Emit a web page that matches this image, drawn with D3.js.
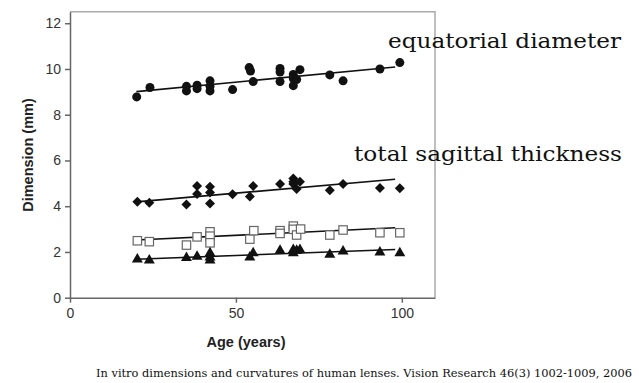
<!DOCTYPE html>
<html>
<head>
<meta charset="utf-8">
<script src="https://cdn.jsdelivr.net/npm/d3@7"></script>
<style>
  body { margin: 0; background: #fff; }
  svg { display: block; }
</style>
</head>
<body>
<svg id="chart" width="639" height="383"></svg>
<script>
// ages (years) and dimensions (mm)
var diamAge = [20.1, 24.1, 35.1, 35.1, 38.3, 38.3, 42.2, 42.2, 42.2, 49, 54, 54.4, 55.2, 63.3, 63.3, 63.3, 67.3, 67.3, 67.3, 68.3, 69.3, 78.3, 82.3, 93.4, 99.4];
var diamVal = [8.78, 9.19, 9.24, 9.04, 9.29, 9.14, 9.48, 9.24, 9.04, 9.1, 10.06, 9.91, 9.45, 10.02, 9.87, 9.45, 9.76, 9.58, 9.27, 9.54, 9.97, 9.74, 9.48, 10.0, 10.28];

var thickAge = [20.3, 23.9, 35.1, 38.3, 38.3, 42.2, 42.2, 42.2, 49, 54.2, 55.2, 63.3, 67.3, 67.3, 67.3, 68.3, 69.3, 78.3, 82.3, 93.4, 99.4];
var thickVal = [4.19, 4.15, 4.08, 4.88, 4.53, 4.85, 4.6, 4.12, 4.52, 4.42, 4.88, 4.97, 5.21, 5.07, 4.97, 4.75, 5.07, 4.7, 4.97, 4.8, 4.78];

var antAge = [20.3, 23.9, 35.1, 38.3, 42.2, 42.2, 42.2, 54.2, 55.4, 63.3, 63.3, 67.3, 67.3, 68.3, 69.5, 78.3, 82.3, 93.4, 99.4];
var antVal = [2.49, 2.45, 2.3, 2.66, 2.88, 2.69, 2.4, 2.56, 2.93, 2.93, 2.81, 3.13, 2.99, 2.74, 3.0, 2.74, 2.96, 2.84, 2.84];

var postAge = [20.3, 23.9, 35.1, 38.3, 42.2, 42.2, 42.2, 54.2, 55.2, 63.3, 67.3, 67.3, 68.3, 69.3, 78.3, 82.3, 93.4, 99.4];
var postVal = [1.7, 1.66, 1.76, 1.82, 1.97, 1.79, 1.65, 1.79, 1.97, 2.08, 2.11, 1.97, 2.08, 2.11, 1.91, 2.05, 2.01, 1.97];

// fitted lines: [age, mm] at both ends
var diamFit = [[20, 9.01], [98, 10.09]];
var thickFit = [[20, 4.19], [98, 5.18]];
var antFit = [[20, 2.52], [98, 3.06]];
var postFit = [[20, 1.68], [98, 2.11]];

var xTicks = [0, 50, 100];
var yTicks = [0, 2, 4, 6, 8, 10, 12];

var svg = d3.select("#chart");
var x = d3.scaleLinear().domain([0, 110]).range([70, 435]);
var y = d3.scaleLinear().domain([0, 12.5]).range([297.7, 11.8]);

// top / right frame
svg.append("path")
    .attr("d", "M" + x(0) + "," + y(12.5) + "H" + x(110) + "V" + y(0))
    .attr("fill", "none")
    .attr("stroke", "#aaa")
    .attr("stroke-width", 1.5);

var gx = svg.append("g")
    .attr("transform", "translate(0," + y(0) + ")")
    .call(d3.axisBottom(x).tickValues(xTicks).tickSize(5).tickSizeOuter(0));
var gy = svg.append("g")
    .attr("transform", "translate(" + x(0) + ",0)")
    .call(d3.axisLeft(y).tickValues(yTicks).tickSize(5).tickSizeOuter(0));
[gx, gy].forEach(function(g) {
  g.select(".domain").attr("stroke", "#666").attr("stroke-width", 1.5);
  g.selectAll(".tick line").attr("stroke", "#666").attr("stroke-width", 1.5);
  g.selectAll(".tick text")
    .attr("fill", "#333")
    .style("font", "14px 'Liberation Sans', Arial, sans-serif");
});
gx.selectAll(".tick text").attr("dy", "0.85em");
gy.selectAll(".tick text").attr("dx", "-1px");

svg.append("text")
    .attr("x", 246).attr("y", 347)
    .attr("text-anchor", "middle")
    .attr("fill", "#222")
    .style("font", "bold 14.5px 'Liberation Sans', Arial, sans-serif")
    .text("Age (years)");
svg.append("text")
    .attr("transform", "translate(33,155) rotate(-90)")
    .attr("text-anchor", "middle")
    .attr("fill", "#222")
    .style("font", "bold 14.5px 'Liberation Sans', Arial, sans-serif")
    .text("Dimension (mm)");

var line = d3.line().x(function(d) { return x(d[0]); }).y(function(d) { return y(d[1]); });
[diamFit, thickFit, antFit, postFit].forEach(function(f) {
  svg.append("path").attr("d", line(f))
      .attr("fill", "none").attr("stroke", "#111").attr("stroke-width", 1.6);
});

function pts(ages, vals) { return ages.map(function(a, i) { return [a, vals[i]]; }); }

svg.append("g").selectAll("circle")
    .data(pts(diamAge, diamVal)).enter().append("circle")
    .attr("cx", function(d) { return x(d[0]); })
    .attr("cy", function(d) { return y(d[1]); })
    .attr("r", 4.5)
    .attr("fill", "#111");

// diamond = square turned 45 degrees
var diamond = d3.symbol().type(d3.symbolSquare).size(50);
svg.append("g").selectAll("path")
    .data(pts(thickAge, thickVal)).enter().append("path")
    .attr("d", diamond)
    .attr("transform", function(d) { return "translate(" + x(d[0]) + "," + y(d[1]) + ") rotate(45)"; })
    .attr("fill", "#111");

svg.append("g").selectAll("rect")
    .data(pts(antAge, antVal)).enter().append("rect")
    .attr("x", function(d) { return x(d[0]) - 4.2; })
    .attr("y", function(d) { return y(d[1]) - 4.2; })
    .attr("width", 8.4).attr("height", 8.4)
    .attr("fill", "#fff")
    .attr("stroke", "#666")
    .attr("stroke-width", 1.2);

var tri = d3.symbol().type(d3.symbolTriangle).size(52);
svg.append("g").selectAll("path")
    .data(pts(postAge, postVal)).enter().append("path")
    .attr("d", tri)
    .attr("transform", function(d) { return "translate(" + x(d[0]) + "," + (y(d[1]) + 0.5) + ")"; })
    .attr("fill", "#111");

// annotations
svg.append("text")
    .attr("x", 388).attr("y", 48)
    .attr("textLength", 233).attr("lengthAdjust", "spacingAndGlyphs")
    .attr("fill", "#111")
    .style("font", "21px 'DejaVu Serif', serif")
    .text("equatorial diameter");
svg.append("text")
    .attr("x", 354).attr("y", 161)
    .attr("textLength", 268).attr("lengthAdjust", "spacingAndGlyphs")
    .attr("fill", "#111")
    .style("font", "21px 'DejaVu Serif', serif")
    .text("total sagittal thickness");
svg.append("text")
    .attr("x", 96).attr("y", 377)
    .attr("textLength", 536).attr("lengthAdjust", "spacingAndGlyphs")
    .attr("fill", "#111")
    .style("font", "11px 'DejaVu Serif', serif")
    .text("In vitro dimensions and curvatures of human lenses. Vision Research 46(3) 1002-1009, 2006");
</script>
</body>
</html>
